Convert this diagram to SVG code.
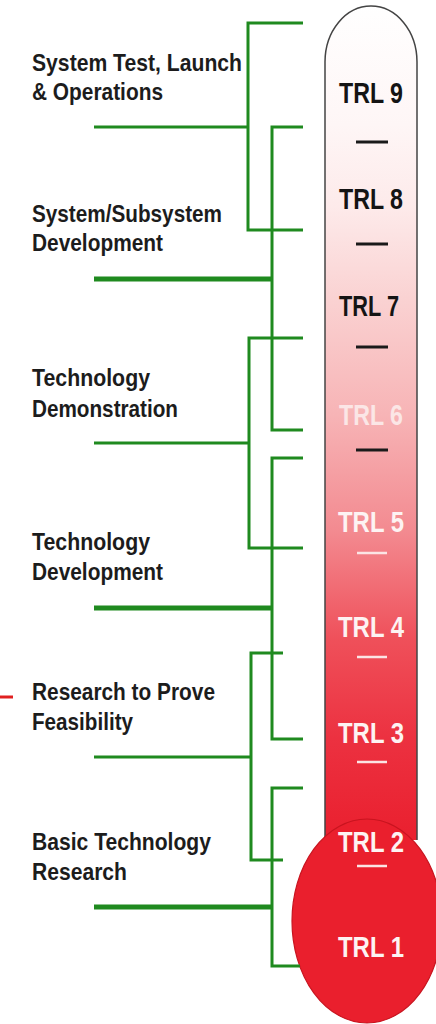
<svg xmlns="http://www.w3.org/2000/svg" width="436" height="1024" viewBox="0 0 436 1024">
<defs>
<linearGradient id="tubeGrad" gradientUnits="userSpaceOnUse" x1="0" y1="0" x2="0" y2="830">
<stop offset="0" stop-color="#ffffff"/>
<stop offset="0.15" stop-color="#fef6f6"/>
<stop offset="0.25" stop-color="#fdeaea"/>
<stop offset="0.36" stop-color="#fad2d2"/>
<stop offset="0.5" stop-color="#f7b4b6"/>
<stop offset="0.64" stop-color="#f38a90"/>
<stop offset="0.77" stop-color="#ef505a"/>
<stop offset="0.89" stop-color="#ec3140"/>
<stop offset="1" stop-color="#ea2130"/>
</linearGradient>
</defs>
<style>
.lbl{font-family:"Liberation Sans",Arial,sans-serif;font-weight:bold;font-size:24px;fill:#1c1c1c}
.trl{font-family:"Liberation Sans",Arial,sans-serif;font-weight:bold;font-size:30px;text-anchor:middle}
.dk{fill:#141414}
.wt{fill:#fdf3f3}
.pl{fill:#fbe6e6}
.g{stroke:#1f8a1f;stroke-width:3;fill:none}
.gt{stroke:#1f8a1f;stroke-width:5;fill:none}
.dashb{stroke:#1a1a1a;stroke-width:3}
.dashw{stroke:#fbe4e4;stroke-width:2.5}
</style>
<rect width="436" height="1024" fill="#ffffff"/>

<g id="thermometer">
<path d="M325 840 L325 62 A46 56 0 0 1 417 62 L417 840" fill="url(#tubeGrad)" stroke="#444444" stroke-width="1.5"/>
<ellipse cx="367" cy="921" rx="75" ry="102" fill="#ea1f2d" stroke="#c8141f" stroke-width="1.2"/>
</g>

<g id="connectors">
<path class="g" d="M303 23 H248 V230 H303"/>
<path class="g" d="M94 127 H248"/>
<path class="g" d="M303 127 H272 V430 H303"/>
<path class="gt" d="M94 279 H272"/>
<path class="g" d="M303 338 H249 V548 H303"/>
<path class="g" d="M94 443 H249"/>
<path class="g" d="M303 458 H272 V739 H303"/>
<path class="gt" d="M94 608 H272"/>
<path class="g" d="M283 653 H251 V860 H283"/>
<path class="g" d="M94 757 H251"/>
<path class="g" d="M303 788 H272 V966 H300"/>
<path class="gt" d="M94 907 H272"/>
<line x1="0" y1="697" x2="13" y2="697" stroke="#e02020" stroke-width="3"/>
</g>

<g id="phase-system-test">
<text class="lbl" x="32" y="71" textLength="210" lengthAdjust="spacingAndGlyphs">System Test, Launch</text>
<text class="lbl" x="32" y="100" textLength="131" lengthAdjust="spacingAndGlyphs">&amp; Operations</text>
</g>
<g id="phase-system-dev">
<text class="lbl" x="32" y="222" textLength="190" lengthAdjust="spacingAndGlyphs">System/Subsystem</text>
<text class="lbl" x="32" y="251" textLength="131" lengthAdjust="spacingAndGlyphs">Development</text>
</g>
<g id="phase-tech-demo">
<text class="lbl" x="32" y="386" textLength="118" lengthAdjust="spacingAndGlyphs">Technology</text>
<text class="lbl" x="32" y="417" textLength="146" lengthAdjust="spacingAndGlyphs">Demonstration</text>
</g>
<g id="phase-tech-dev">
<text class="lbl" x="32" y="550" textLength="118" lengthAdjust="spacingAndGlyphs">Technology</text>
<text class="lbl" x="32" y="580" textLength="131" lengthAdjust="spacingAndGlyphs">Development</text>
</g>
<g id="phase-research-feasibility">
<text class="lbl" x="32" y="700" textLength="183" lengthAdjust="spacingAndGlyphs">Research to Prove</text>
<text class="lbl" x="32" y="730" textLength="101" lengthAdjust="spacingAndGlyphs">Feasibility</text>
</g>
<g id="phase-basic-research">
<text class="lbl" x="32" y="850" textLength="179" lengthAdjust="spacingAndGlyphs">Basic Technology</text>
<text class="lbl" x="32" y="880" textLength="95" lengthAdjust="spacingAndGlyphs">Research</text>
</g>

<g id="trl9"><text class="trl dk" x="371" y="103" textLength="64" lengthAdjust="spacingAndGlyphs">TRL 9</text></g>
<g id="trl8"><text class="trl dk" x="371" y="209" textLength="64" lengthAdjust="spacingAndGlyphs">TRL 8</text></g>
<g id="trl7"><text class="trl dk" x="369" y="316" textLength="60" lengthAdjust="spacingAndGlyphs">TRL 7</text></g>
<g id="trl6"><text class="trl pl" x="371" y="425" textLength="64" lengthAdjust="spacingAndGlyphs">TRL 6</text></g>
<g id="trl5"><text class="trl wt" x="371" y="532" textLength="66" lengthAdjust="spacingAndGlyphs">TRL 5</text></g>
<g id="trl4"><text class="trl wt" x="371" y="637" textLength="66" lengthAdjust="spacingAndGlyphs">TRL 4</text></g>
<g id="trl3"><text class="trl wt" x="371" y="743" textLength="66" lengthAdjust="spacingAndGlyphs">TRL 3</text></g>
<g id="trl2"><text class="trl wt" x="371" y="852" textLength="66" lengthAdjust="spacingAndGlyphs">TRL 2</text></g>
<g id="trl1"><text class="trl wt" x="371" y="957" textLength="66" lengthAdjust="spacingAndGlyphs">TRL 1</text></g>

<g id="separators">
<line class="dashb" x1="356" y1="142" x2="388" y2="142"/>
<line class="dashb" x1="356" y1="244" x2="388" y2="244"/>
<line class="dashb" x1="356" y1="347" x2="388" y2="347"/>
<line class="dashb" x1="356" y1="450" x2="388" y2="450"/>
<line class="dashw" x1="357" y1="553" x2="387" y2="553"/>
<line class="dashw" x1="357" y1="657" x2="387" y2="657"/>
<line class="dashw" x1="357" y1="762" x2="387" y2="762"/>
<line class="dashw" x1="357" y1="866" x2="387" y2="866"/>
</g>
</svg>
